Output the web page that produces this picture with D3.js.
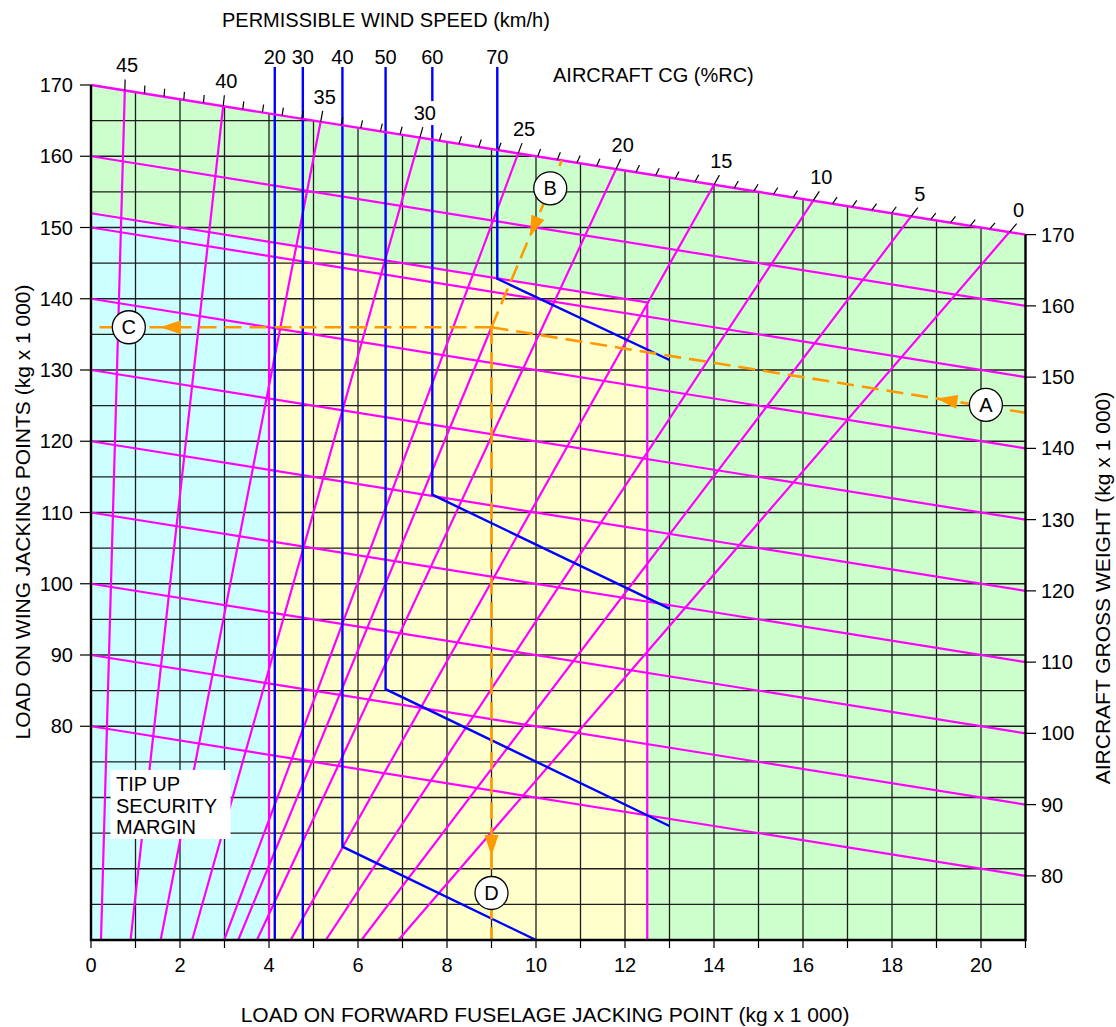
<!DOCTYPE html>
<html><head><meta charset="utf-8">
<script src="https://cdn.jsdelivr.net/npm/d3@7/dist/d3.min.js"></script>
<style>
body{margin:0;background:#fff}
text{font-family:"Liberation Sans",Arial,Helvetica,sans-serif;fill:#000}
</style>
</head><body>
<svg id="chart" width="1116" height="1027"></svg>
<script>
// ---------------- DATA ----------------
const fwdTickValues = [0,1,2,3,4,5,6,7,8,9,10,11,12,13,14,15,16,17,18,19,20,21];
const fwdTickLabels = [0,2,4,6,8,10,12,14,16,18,20];
const wingTickLabels = [80,90,100,110,120,130,140,150,160,170];
const grossTickLabels = [80,90,100,110,120,130,140,150,160,170];
// gross-weight lines, identified by their value on the left (x = 0) axis
const grossWeightLines = [160,150,140,130,120,110,100,90,80];
const maxGrossWeight = 170;
// aircraft CG lines (%RC) and the forward load where each meets the 170 t line
const cgValues  = [45,40,35,30,25,20,15,10,5,0];
const cgTopFwd  = [0.76,2.97,5.16,7.39,9.60,11.80,14.00,16.23,18.43,20.64];
// permissible wind speed limits (km/h)
const windSpeeds   = [20,30,40,50,60,70];
const windFwd      = [4.13,4.76,5.65,6.62,7.67,9.13];
const windBendWing = [null,null,63.1,85.2,112.5,142.8];
const windEndFwd   = [null,null,10.0,13.0,13.0,13.0];
const windEndWing  = [null,null,50.0,66.0,96.5,131.4];
// zone limits
const limitGross = 152;   // upper limit of jacking zones
const tipUpFwd = 4.0;     // tip-up security margin limit
const maxFwd = 12.5;      // max forward jacking load
// worked example
const exampleLabels  = ["A","B","C","D"];
const exampleFwd     = [20.11,10.32,0.85,9.0];
const exampleWing    = [125.1,155.5,136.0,56.6];
const exampleGross   = 145;
const exampleCornerFwd = 9.0, exampleCornerWing = 136.0;
const exampleCgTopFwd = 10.58;
const arrowFwd  = [19.0, 9.86, 1.55, 9.0];
const arrowWing = [126.0, 148.7, 136.0, 61.8];

// ---------------- SCALES ----------------
const svg = d3.select("#chart");
const x = d3.scaleLinear().domain([0,21]).range([91,1025.5]);
const y = d3.scaleLinear().domain([50,170]).range([940,85]);
const yR = d3.scaleLinear().domain([71,191]).range([940,85]); // gross weight = wing + fwd(21) at right edge
const xMax = 21, wMin = 50;

const MAG="#ff00ff", BLUE="#0000ff", ORANGE="#ff9900";
const GREEN="#ccffcc", CYAN="#ccffff", YELLOW="#ffffcc";

const line = d3.line().x(d=>x(d[0])).y(d=>y(d[1]));

const areaPoly = [[0,wMin],[0,maxGrossWeight],[xMax,maxGrossWeight-xMax],[xMax,wMin]];
svg.append("clipPath").attr("id","plotclip").append("path").attr("d",line(areaPoly)+"Z");
const plot = svg.append("g").attr("clip-path","url(#plotclip)");

// fills
plot.append("path").attr("d",line(areaPoly)+"Z").attr("fill",GREEN);
plot.append("path").attr("d",line([[0,wMin],[0,limitGross],[tipUpFwd,limitGross-tipUpFwd],[tipUpFwd,wMin]])+"Z").attr("fill",CYAN);
plot.append("path").attr("d",line([[tipUpFwd,wMin],[tipUpFwd,limitGross-tipUpFwd],[maxFwd,limitGross-maxFwd],[maxFwd,wMin]])+"Z").attr("fill",YELLOW);

// grid
const grid = plot.append("g").attr("stroke","#1e1e1e").attr("stroke-width",1.3);
fwdTickValues.filter(v=>v>0&&v<xMax).forEach(v=>{
  grid.append("path").attr("d",line([[v,wMin],[v,maxGrossWeight]]));
});
d3.range(55,170,5).forEach(w=>{
  grid.append("path").attr("d",line([[0,w],[xMax,w]]));
});

// magenta lines
const mag = plot.append("g").attr("stroke",MAG).attr("stroke-width",2.2).attr("fill","none");
grossWeightLines.forEach(g=>{
  mag.append("path").attr("d",line([[0,g],[xMax,g-xMax]]));
});
mag.append("path").attr("d",line([[0,limitGross],[maxFwd,limitGross-maxFwd],[maxFwd,wMin]]));
mag.append("path").attr("d",line([[tipUpFwd,limitGross-tipUpFwd],[tipUpFwd,wMin]]));
cgTopFwd.forEach(xt=>{
  const wt = maxGrossWeight - xt;
  mag.append("path").attr("d",line([[xt,wt],[xt*wMin/wt,wMin]]));
});
// example CG line continued below the reading point
mag.append("path").attr("d",line([[exampleCornerFwd,exampleCornerWing],[exampleCornerFwd*wMin/exampleCornerWing,wMin]]));

// wind speed lines
const blue = svg.append("g").attr("stroke",BLUE).attr("stroke-width",2.4).attr("fill","none");
windSpeeds.forEach((s,i)=>{
  const pts=[[x(windFwd[i]),67]];
  if(windBendWing[i]==null){pts.push([x(windFwd[i]),y(wMin)]);}
  else{pts.push([x(windFwd[i]),y(windBendWing[i])]);pts.push([x(windEndFwd[i]),y(windEndWing[i])]);}
  blue.append("path").attr("d",d3.line()(pts));
});

// top 170 t line
svg.append("path").attr("d",line([[0,maxGrossWeight],[xMax,maxGrossWeight-xMax]]))
  .attr("stroke",MAG).attr("stroke-width",2.4).attr("fill","none");

// CG ticks and labels on the top line
const cgScale = d3.scaleLinear().domain([0,45]).range([cgTopFwd[9],cgTopFwd[0]]);
function topPoint(xt){
  const px=x(xt), py=y(maxGrossWeight-xt);
  const ox=x(0), oy=y(0);
  const dx=px-ox, dy=py-oy, L=Math.hypot(dx,dy);
  return {px,py,ux:dx/L,uy:dy/L};
}
const ticks = svg.append("g").attr("stroke","#000").attr("stroke-width",1.2);
d3.range(0,46,1).forEach(c=>{
  if(c%5===0) return;
  const t=topPoint(cgScale(c));
  ticks.append("line").attr("x1",t.px).attr("y1",t.py).attr("x2",t.px+t.ux*8).attr("y2",t.py+t.uy*8);
});
const cgLab = svg.append("g");
cgValues.forEach((c,i)=>{
  const t=topPoint(cgTopFwd[i]);
  const ex=t.px+t.ux*11, ey=t.py+t.uy*11;
  ticks.append("line").attr("x1",t.px).attr("y1",t.py).attr("x2",ex).attr("y2",ey);
  const tx=ex+2, ty=ey-7;
  cgLab.append("rect").attr("x",tx-12).attr("y",ty-19).attr("width",24).attr("height",24).attr("fill","#fff");
  cgLab.append("text").attr("x",tx).attr("y",ty).attr("text-anchor","middle").attr("font-size",20).text(c);
});

// wind speed labels
windSpeeds.forEach((s,i)=>{
  svg.append("text").attr("x",x(windFwd[i])).attr("y",64).attr("text-anchor","middle").attr("font-size",20).text(s);
});

// worked example (orange)
const org = svg.append("g").attr("stroke",ORANGE).attr("stroke-width",2.6).attr("fill","none").attr("stroke-dasharray","17,8");
org.append("path").attr("d",line([[exampleCornerFwd,exampleCornerWing],[xMax,exampleGross-xMax]]));
org.append("path").attr("d",line([[exampleCornerFwd,exampleCornerWing],[0,exampleCornerWing]]));
org.append("path").attr("d",line([[exampleCornerFwd,exampleCornerWing],[exampleCgTopFwd,maxGrossWeight-exampleCgTopFwd]]));
org.append("path").attr("d",line([[exampleCornerFwd,exampleCornerWing],[exampleCornerFwd,wMin]]));
const arrowFrom = [[xMax,exampleGross-xMax],[exampleCgTopFwd,maxGrossWeight-exampleCgTopFwd],[exampleCornerFwd,exampleCornerWing],[exampleCornerFwd,exampleCornerWing]];
arrowFwd.forEach((af,i)=>{
  const tx=x(af), ty=y(arrowWing[i]);
  const fx=x(arrowFrom[i][0]), fy=y(arrowFrom[i][1]);
  const dx=tx-fx, dy=ty-fy, L=Math.hypot(dx,dy), ux=dx/L, uy=dy/L;
  const bx=tx-ux*21, by=ty-uy*21;
  svg.append("path").attr("d",`M${tx},${ty}L${bx-uy*7},${by+ux*7}L${bx+uy*7},${by-ux*7}Z`).attr("fill",ORANGE);
});
exampleLabels.forEach((l,i)=>{
  svg.append("circle").attr("cx",x(exampleFwd[i])).attr("cy",y(exampleWing[i])).attr("r",16.5)
    .attr("fill","#fff").attr("stroke","#000").attr("stroke-width",1.3);
  svg.append("text").attr("x",x(exampleFwd[i])).attr("y",y(exampleWing[i])+7).attr("text-anchor","middle").attr("font-size",20).text(l);
});

// tip-up box
const box = svg.append("g");
box.append("rect").attr("x",110.5).attr("y",770).attr("width",120).attr("height",69).attr("fill","#fff");
["TIP UP","SECURITY","MARGIN"].forEach((t,i)=>{
  box.append("text").attr("x",116).attr("y",791+i*21.5).attr("font-size",20).text(t);
});

// frame
svg.append("path").attr("d",line([[0,maxGrossWeight],[0,wMin],[xMax,wMin],[xMax,maxGrossWeight-xMax]]))
  .attr("stroke","#000").attr("stroke-width",2.4).attr("fill","none");

// axes
const ax = svg.append("g");
fwdTickValues.forEach(v=>{
  ax.append("line").attr("x1",x(v)).attr("x2",x(v)).attr("y1",940).attr("y2",948).attr("stroke","#000").attr("stroke-width",1.2);
});
fwdTickLabels.forEach(v=>{
  ax.append("text").attr("x",x(v)).attr("y",972).attr("text-anchor","middle").attr("font-size",20).text(v);
});
wingTickLabels.forEach(v=>{
  ax.append("line").attr("x1",80).attr("x2",91).attr("y1",y(v)).attr("y2",y(v)).attr("stroke","#000").attr("stroke-width",1.2);
  ax.append("text").attr("x",73).attr("y",y(v)+7).attr("text-anchor","end").attr("font-size",20).text(v);
});
grossTickLabels.forEach(v=>{
  ax.append("line").attr("x1",1025.5).attr("x2",1036).attr("y1",yR(v)).attr("y2",yR(v)).attr("stroke","#000").attr("stroke-width",1.2);
  ax.append("text").attr("x",1041).attr("y",yR(v)+7).attr("text-anchor","start").attr("font-size",20).text(v);
});

// titles
svg.append("text").attr("x",222).attr("y",27).attr("font-size",20).text("PERMISSIBLE WIND SPEED (km/h)");
svg.append("text").attr("x",553).attr("y",82).attr("font-size",20).text("AIRCRAFT CG (%RC)");
svg.append("text").attr("x",545).attr("y",1022).attr("text-anchor","middle").attr("font-size",21).text("LOAD ON FORWARD FUSELAGE JACKING POINT (kg x 1 000)");
svg.append("text").attr("transform","translate(30,512) rotate(-90)").attr("text-anchor","middle").attr("font-size",21).text("LOAD ON WING JACKING POINTS (kg x 1 000)");
svg.append("text").attr("transform","translate(1110,588) rotate(-90)").attr("text-anchor","middle").attr("font-size",21).text("AIRCRAFT GROSS WEIGHT (kg x 1 000)");
</script>
</body></html>
